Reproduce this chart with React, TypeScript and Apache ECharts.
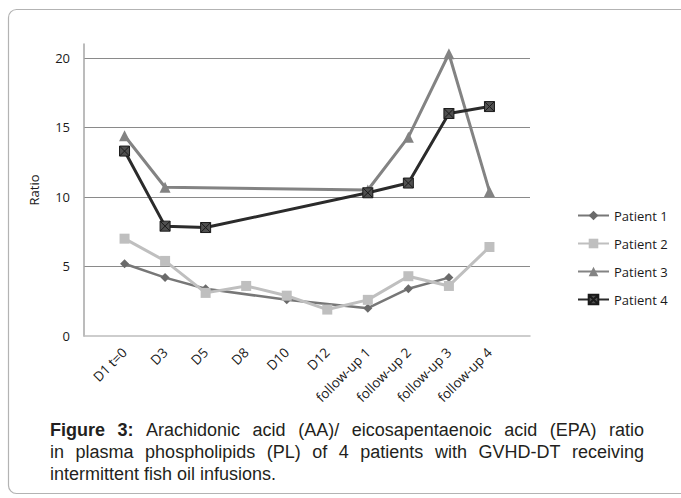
import React, { useEffect, useRef } from "react";
import * as echarts from "echarts";

const categories = ["D1 t=0", "D3", "D5", "D8", "D10", "D12", "follow-up 1", "follow-up 2", "follow-up 3", "follow-up 4"];
const patient1 = [5.2, 4.2, 3.4, null, 2.6, null, 2.0, 3.4, 4.2, null];
const patient2 = [7.0, 5.4, 3.1, 3.6, 2.9, 1.9, 2.6, 4.3, 3.6, 6.4];
const patient3 = [14.4, 10.7, null, null, null, null, 10.5, 14.3, 20.3, 10.4];
const patient4 = [13.3, 7.9, 7.8, null, null, null, 10.3, 11.0, 16.0, 16.5];
const yTicks = [0, 5, 10, 15, 20];

const captionLine1 = ["Figure", "3:", "Arachidonic", "acid", "(AA)/", "eicosapentaenoic", "acid", "(EPA)", "ratio"];
const captionLine2 = ["in", "plasma", "phospholipids", "(PL)", "of", "4", "patients", "with", "GVHD-DT", "receiving"];
const captionLine3 = "intermittent fish oil infusions.";

const FONT = '"Open Sans", sans-serif';
const CAP_FONT_FAMILY = '"Liberation Sans", Arial, sans-serif';
const CAP_SIZE = 18;

function toPoints(vals: (number | null)[]) {
  return vals.map((v, i) => (v == null ? null : [i, v])).filter((p) => p !== null);
}

function justify(words: string[], boldCount: number, x0: number, x1: number, y: number) {
  const ctx = document.createElement("canvas").getContext("2d")!;
  const widths = words.map((w, i) => {
    ctx.font = `${i < boldCount ? "bold " : ""}${CAP_SIZE}px ${CAP_FONT_FAMILY}`;
    return ctx.measureText(w).width;
  });
  const total = widths.reduce((a, b) => a + b, 0);
  const gap = (x1 - x0 - total) / (words.length - 1);
  let x = x0;
  return words.map((w, i) => {
    const el = {
      type: "text",
      x,
      y,
      style: {
        text: w,
        font: `${i < boldCount ? "bold " : ""}${CAP_SIZE}px ${CAP_FONT_FAMILY}`,
        fill: "#231f20",
        verticalAlign: "middle",
      },
    };
    x += widths[i] + gap;
    return el;
  });
}

export default function App() {
  const ref = useRef<HTMLDivElement>(null);
  useEffect(() => {
    const chart = echarts.init(ref.current!, undefined, { renderer: "svg" });
    const mk = (name: string, data: (number | null)[], color: string, symbol: string, size: number, width: number, itemStyle: any = {}) => ({
      name,
      type: "line",
      data: toPoints(data),
      connectNulls: true,
      symbol,
      symbolSize: size,
      lineStyle: { color, width },
      itemStyle: { color, ...itemStyle },
      emphasis: { disabled: true },
    });
    chart.setOption({
      animation: false,
      textStyle: { fontFamily: FONT },
      grid: { left: 84, right: 151, top: 44, bottom: 162 },
      xAxis: {
        type: "value",
        min: -1,
        max: 10,
        interval: 1,
        axisLine: { show: true, onZero: false, lineStyle: { color: "#bdbdbd", width: 1.5 } },
        axisTick: { show: false },
        splitLine: { show: false },
        axisLabel: {
          rotate: 45,
          margin: 14,
          fontSize: 13.5,
          color: "#1a1a1a",
          fontFamily: FONT,
          showMinLabel: false,
          showMaxLabel: false,
          formatter: (v: number) => categories[v] ?? "",
        },
      },
      yAxis: {
        type: "value",
        min: 0,
        max: 21,
        interval: 5,
        name: "Ratio",
        nameLocation: "middle",
        nameGap: 44,
        nameRotate: 90,
        nameTextStyle: { fontSize: 13, color: "#1a1a1a", fontFamily: FONT },
        axisLine: { show: true, onZero: false, lineStyle: { color: "#a6a6a6", width: 1.5 } },
        axisTick: { show: false },
        splitLine: { show: true, showMaxLine: false, showMinLine: false, lineStyle: { color: "#8a8a8a", width: 1 } },
        axisLabel: {
          margin: 14,
          fontSize: 13,
          color: "#1a1a1a",
          fontFamily: FONT,
          showMaxLabel: false,
          formatter: (v: number) => (yTicks.includes(v) ? String(v) : ""),
        },
      },
      legend: {
        orient: "vertical",
        left: 572,
        top: 204,
        itemWidth: 31,
        itemHeight: 12,
        itemGap: 15,
        textStyle: { fontSize: 13, color: "#1a1a1a", fontFamily: FONT },
        data: ["Patient 1", "Patient 2", "Patient 3", "Patient 4"],
      },
      series: [
        mk("Patient 1", patient1, "#777777", "diamond", 9, 2.5, { color: "#6a6a6a" }),
        mk("Patient 2", patient2, "#bfbfbf", "rect", 10, 3),
        mk("Patient 3", patient3, "#838383", "triangle", 11, 3),
        mk("Patient 4", patient4, "#2b2b2b", "path://M0 0H10V10H0ZM0 0L10 10M10 0L0 10", 10, 3, {
          color: "#505050",
          borderColor: "#1a1a1a",
          borderWidth: 1,
        }),
      ],
      graphic: [
        {
          type: "rect",
          z: -10,
          shape: { x: 8.5, y: 9.5, width: 680, height: 484, r: 8 },
          style: { fill: "none", stroke: "#b3b3b3", lineWidth: 1.2 },
        },
        ...justify(captionLine1, 2, 50, 644, 430),
        ...justify(captionLine2, 0, 50, 644, 452),
        {
          type: "text",
          x: 50,
          y: 474,
          style: {
            text: captionLine3,
            font: `${CAP_SIZE}px ${CAP_FONT_FAMILY}`,
            fill: "#231f20",
            verticalAlign: "middle",
          },
        },
      ],
    });
    return () => chart.dispose();
  }, []);
  return <div ref={ref} style={{ position: "absolute", left: 0, top: 0, width: 681, height: 498 }} />;
}
